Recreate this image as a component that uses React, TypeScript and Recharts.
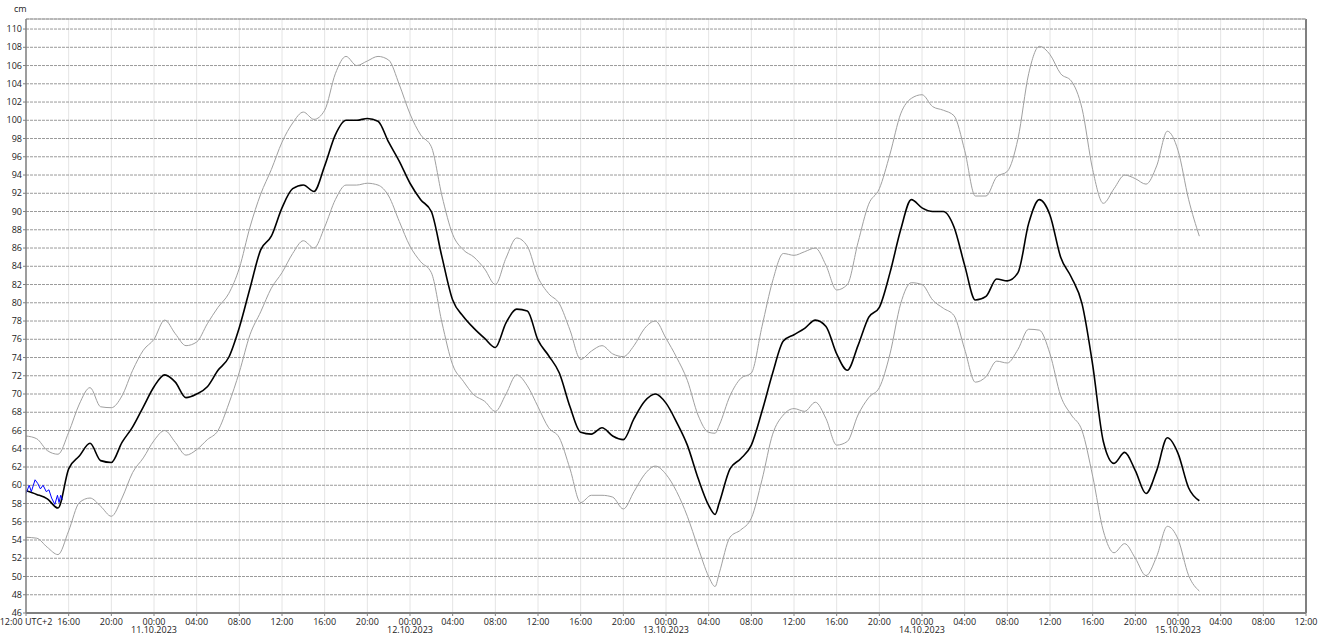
import { LineChart, Line, XAxis, YAxis, CartesianGrid, ReferenceLine } from "recharts";

// hours since 10.10.2023 12:00 (UTC+2); one extra sample at the 13.10 morning low
const HOURS = [
  ...Array.from({ length: 65 }, (_, i) => i),
  64.6,
  ...Array.from({ length: 46 }, (_, i) => 65 + i),
];

const MAIN = [
  59.4, 59.0, 58.5, 57.5, 61.8, 63.2, 64.6, 62.7, 62.5, 64.7,
  66.4, 68.6, 70.8, 72.1, 71.3, 69.6, 70.0, 70.8, 72.6, 74.0,
  77.3, 81.6, 85.8, 87.3, 90.4, 92.5, 92.9, 92.2, 95.0, 98.4,
  100.0, 100.0, 100.2, 99.9, 97.6, 95.5, 93.1, 91.3, 90.0, 85.0,
  80.3, 78.5, 77.2, 76.1, 75.1, 77.8, 79.3, 79.1, 75.9, 74.2,
  72.3, 68.6, 65.8, 65.6, 66.3, 65.4, 65.0, 67.3, 69.2, 70.0,
  69.0, 66.9, 64.4, 60.8, 57.8, 56.8, 58.1, 61.8, 62.9, 64.4, 68.1,
  72.3, 75.8, 76.5, 77.2, 78.1, 77.4, 74.4, 72.6, 75.3, 78.4,
  79.5, 83.3, 88.0, 91.3, 90.4, 90.0, 90.0, 88.3, 84.1, 80.3,
  80.7, 82.6, 82.4, 83.3, 88.7, 91.3, 89.6, 85.0, 82.8, 79.9,
  73.2, 64.8, 62.4, 63.6, 61.6, 59.1, 61.6, 65.2, 63.5, 59.7,
  58.3,
];

const UPPER = [
  65.4, 65.1, 63.8, 63.4, 65.8, 68.9, 70.7, 68.6, 68.5, 69.8,
  72.6, 74.8, 76.0, 78.1, 76.6, 75.3, 75.7, 77.7, 79.5, 81.0,
  83.8, 88.3, 91.9, 94.6, 97.6, 99.7, 100.9, 100.1, 101.1, 105.1,
  107.0, 106.0, 106.5, 107.0, 106.6, 103.9, 100.7, 98.4, 97.1, 91.7,
  87.5, 85.8, 85.0, 83.7, 82.0, 84.9, 87.1, 86.2, 82.8, 81.0,
  79.9, 77.0, 73.8, 74.7, 75.3, 74.4, 74.1, 75.3, 77.2, 78.0,
  76.1, 74.0, 71.5, 67.7, 65.8, 65.7, 66.6, 69.8, 71.7, 72.3, 77.4,
  82.4, 85.4, 85.2, 85.6, 86.0, 84.1, 81.4, 82.0, 86.6, 90.8,
  92.5, 96.3, 100.7, 102.4, 102.8, 101.5, 101.1, 100.5, 96.7, 91.7,
  91.7, 93.8, 94.4, 98.0, 105.1, 108.1, 107.2, 105.1, 104.3, 101.3,
  94.6, 90.9, 92.5, 94.0, 93.6, 93.0, 95.0, 98.8, 96.7, 91.3,
  87.3,
];

const LOWER = [
  54.3, 54.2, 53.2, 52.4, 55.0, 58.1, 58.6, 57.7, 56.6, 58.6,
  61.4, 63.0, 64.9, 66.0, 64.7, 63.3, 63.9, 65.0, 66.0, 68.9,
  72.4, 76.5, 79.0, 81.6, 83.3, 85.4, 86.8, 86.0, 88.3, 91.3,
  92.9, 92.9, 93.1, 92.9, 91.7, 88.9, 86.2, 84.5, 83.3, 77.8,
  73.2, 71.4, 69.9, 69.2, 68.1, 70.0, 72.1, 70.9, 68.6, 66.3,
  65.2, 61.8, 58.1, 58.9, 58.9, 58.7, 57.4, 59.3, 61.2, 62.1,
  61.2, 59.3, 56.6, 53.2, 50.0, 48.9, 50.4, 54.3, 55.1, 56.4, 60.6,
  65.6, 67.7, 68.4, 68.1, 69.1, 67.3, 64.4, 64.8, 67.7, 69.6,
  70.7, 74.4, 79.9, 82.2, 82.0, 80.3, 79.4, 78.6, 74.9, 71.3,
  71.9, 73.6, 73.4, 74.9, 77.1, 77.0, 74.4, 69.8, 67.7, 66.0,
  61.0, 55.0, 52.6, 53.6, 52.0, 50.1, 52.2, 55.5, 54.1, 50.1,
  48.4,
];

// observed values (blue)
const OBS_HOURS = [0, 0.3, 0.5, 0.85, 1.1, 1.35, 1.6, 1.9, 2.15, 2.4, 2.7, 2.95, 3.1, 3.25, 3.4];
const OBS = [59.1, 60.0, 59.3, 60.6, 60.2, 59.6, 60.0, 59.3, 59.5, 58.6, 57.9, 58.9, 58.1, 58.9, 58.4];

const X_TICKS = Array.from({ length: 31 }, (_, i) => i * 4);
const X_LABELS = [
  "12:00 UTC+2", "16:00", "20:00", "00:00|11.10.2023", "04:00", "08:00",
  "12:00", "16:00", "20:00", "00:00|12.10.2023", "04:00", "08:00",
  "12:00", "16:00", "20:00", "00:00|13.10.2023", "04:00", "08:00",
  "12:00", "16:00", "20:00", "00:00|14.10.2023", "04:00", "08:00",
  "12:00", "16:00", "20:00", "00:00|15.10.2023", "04:00", "08:00",
  "12:00",
];
const Y_TICKS = Array.from({ length: 33 }, (_, i) => 46 + i * 2);

const data = HOURS.map((h, i) => ({ h, main: MAIN[i], upper: UPPER[i], lower: LOWER[i] }));
const obsData = OBS_HOURS.map((h, i) => ({ h, obs: OBS[i] }));

const FONT = "'Open Sans', 'Noto Sans', sans-serif";

function XTick({ x, y, payload }: any) {
  const idx = X_TICKS.indexOf(payload.value);
  const [time, date] = (X_LABELS[idx] ?? "").split("|");
  return (
    <g transform={`translate(${x},${y})`}>
      <text textAnchor="middle" fontSize={9} fill="#222" fontFamily={FONT}>
        <tspan x={0} dy={6.5}>{time}</tspan>
        {date && <tspan x={0} dy={8}>{date}</tspan>}
      </text>
    </g>
  );
}

export default function App() {
  return (
    <div style={{ position: "absolute", left: 0, top: 0, width: 1336, height: 634, background: "#fff" }}>
      <div style={{ position: "absolute", left: 14, top: 2, fontSize: 9, fontFamily: FONT, color: "#222" }}>cm</div>
      <LineChart width={1336} height={634} margin={{ top: 19, right: 30, bottom: 0, left: 0 }}>
        <CartesianGrid horizontal={false} stroke="#e4e4e4" strokeWidth={1} />
        <CartesianGrid vertical={false} stroke="#9a9a9a" strokeDasharray="3 1" strokeWidth={1} />
        <XAxis
          dataKey="h"
          type="number"
          domain={[0, 120]}
          ticks={X_TICKS}
          interval={0}
          height={21}
          tickSize={3}
          tickMargin={2}
          tick={<XTick />}
          axisLine={{ stroke: "#808080", strokeWidth: 2 }}
          tickLine={{ stroke: "#808080" }}
          allowDataOverflow
        />
        <YAxis
          type="number"
          domain={[46, 111.1]}
          ticks={Y_TICKS}
          interval={0}
          width={26}
          tickSize={3}
          tickMargin={1}
          tick={{ fontSize: 9, fill: "#222", fontFamily: FONT }}
          axisLine={{ stroke: "#808080", strokeWidth: 1.5 }}
          tickLine={{ stroke: "#808080" }}
          allowDataOverflow
        />
        <ReferenceLine x={120} stroke="#808080" strokeWidth={2} />
        <ReferenceLine y={111.1} stroke="#a0a0a0" strokeWidth={1} />
        <Line dataKey="upper" data={data} type="monotone" stroke="#a0a0a0" strokeWidth={1} dot={false} isAnimationActive={false} />
        <Line dataKey="lower" data={data} type="monotone" stroke="#a0a0a0" strokeWidth={1} dot={false} isAnimationActive={false} />
        <Line dataKey="main" data={data} type="monotone" stroke="#000" strokeWidth={1.6} dot={false} isAnimationActive={false} />
        <Line dataKey="obs" data={obsData} type="linear" stroke="#0000ff" strokeWidth={1} dot={false} isAnimationActive={false} />
      </LineChart>
    </div>
  );
}
